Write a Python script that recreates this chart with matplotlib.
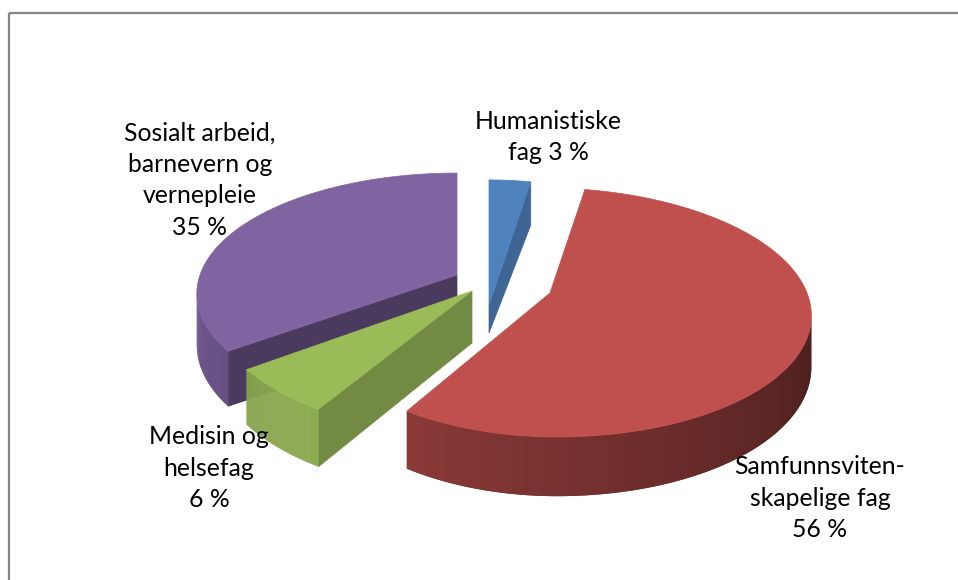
import numpy as np
import matplotlib
matplotlib.use("Agg")
import matplotlib.pyplot as plt
from matplotlib.patches import Polygon
from matplotlib.colors import to_rgb

categories = ["Humanistiske fag", "Samfunnsvitenskapelige fag", "Medisin og helsefag",
              "Sosialt arbeid, barnevern og vernepleie"]
values     = [3, 56, 6, 35]
labels     = ["Humanistiske\nfag 3 %", "Samfunnsviten-\nskapelige fag\n56 %",
              "Medisin og\nhelsefag\n6 %", "Sosialt arbeid,\nbarnevern og\nvernepleie\n35 %"]
colors     = ["#4f81bd", "#c0504d", "#9bbb59", "#8064a2"]

# where each exploded slice has its tip, in pixels
tips       = [(489, 305), (550, 293), (472, 291), (457, 275)]
tip_depth  = [28, 50, 52, 54]
y_stretch  = [1.19, 1.0, 1.0, 0.97]
x_skew     = [0, 7, 6, 0]
left_scale = [1.0, 0.94, 1.0, 1.0]
label_pos  = [(548, 137), (820, 498), (209, 468), (200, 180)]

# rim brightness at the two ends of the visible arc
rim_shade  = [(0.8, 0.8), (0.38, 0.72), (0.92, 0.88), (0.80, 0.88)]
side_shade = [0.78, 0.5, 0.74, 0.58]

RX, RY = 257.0, 121.5
PERSP  = 0.156
DEPTH  = 50.0

plt.rcParams['font.family'] = ['Lato', 'DejaVu Sans']


def project(theta, i):
    # angle is clockwise from the top of the pie
    u = np.sin(theta)
    v = np.cos(theta)
    s = 1.0 / (1.0 + PERSP * v)
    rx = np.where(u < 0, RX * left_scale[i], RX)
    x = tips[i][0] + rx * u * s - x_skew[i] * v
    y = tips[i][1] - RY * y_stretch[i] * v * s
    return x, y, DEPTH * s


def shaded(color, f):
    return tuple(c * f for c in to_rgb(color))


fig = plt.figure(figsize=(9.58, 5.8), dpi=100)
ax = fig.add_axes([0, 0, 1, 1])
ax.set_xlim(0, 958)
ax.set_ylim(580, 0)
ax.axis("off")

# chart frame, open at the right and the bottom
ax.plot([9, 9], [580, 13], color="#868686", lw=1.6, solid_capstyle="butt")
ax.plot([9, 958], [13, 13], color="#868686", lw=1.6, solid_capstyle="butt")

edges = np.radians(np.concatenate([[0], np.cumsum(values)]) * 3.6)

# back slices first so the front ones cover them
order = [0, 3, 1, 2]
for pos, i in enumerate(order):
    z = pos + 1
    th = np.linspace(edges[i], edges[i + 1], 181)
    tip = tips[i]
    x, y, d = project(th, i)
    col = colors[i]

    # radial walls, only the ones turned towards the viewer
    for k, side in ((0, -1), (-1, 1)):
        quad = [(tip[0], tip[1]), (x[k], y[k]), (x[k], y[k] + d[k]), (tip[0], tip[1] + tip_depth[i])]
        q = np.array(quad)
        area = 0.5 * np.sum(q[:, 0] * np.roll(q[:, 1], -1) - np.roll(q[:, 0], -1) * q[:, 1])
        if area * side > 1:
            ax.add_patch(Polygon(quad, closed=True, fc=shaded(col, side_shade[i]),
                                 ec=shaded(col, side_shade[i]), lw=0.5, zorder=z))

    # outer wall as overlapping strips, shaded along the arc
    front = np.where(np.diff(x) < 0)[0]
    for j in front:
        t = (j - front[0]) / max(front[-1] - front[0], 1)
        f = rim_shade[i][0] + (rim_shade[i][1] - rim_shade[i][0]) * t
        n = min(j + 2, front[-1] + 1)
        quad = [(x[j], y[j]), (x[n], y[n]), (x[n], y[n] + d[n]), (x[j], y[j] + d[j])]
        ax.add_patch(Polygon(quad, closed=True, fc=shaded(col, f), ec="none", zorder=z))

    # top face
    top = [(tip[0], tip[1])] + list(zip(x, y))
    ax.add_patch(Polygon(top, closed=True, fc=col, ec=col, lw=0.5, zorder=z + 0.5))

for i in range(len(labels)):
    ax.text(label_pos[i][0], label_pos[i][1], labels[i], ha="center", va="center", fontsize=17.8,
            color="black", linespacing=1.45, zorder=10)

fig.savefig("out.png", dpi=100)
